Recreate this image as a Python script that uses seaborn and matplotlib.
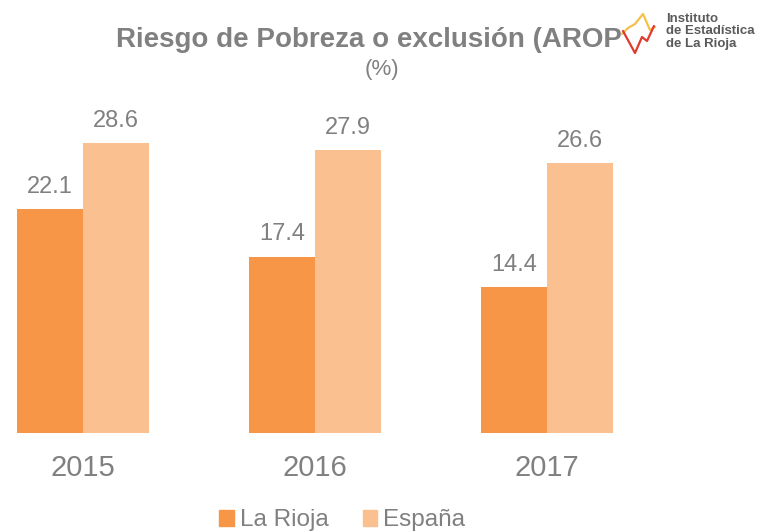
import matplotlib
matplotlib.use('Agg')
import matplotlib.pyplot as plt
import matplotlib.patches as mpatches
import seaborn as sns
import pandas as pd

years = ['2015', '2016', '2017']
la_rioja = [22.1, 17.4, 14.4]
espana = [28.6, 27.9, 26.6]
series = ['La Rioja', 'España']
colors = ['#F79646', '#FAC090']
grey = '#808080'

df = pd.DataFrame({
    'year': years * 2,
    'region': [series[0]] * 3 + [series[1]] * 3,
    'value': la_rioja + espana,
})

sns.set_style('white')
plt.rcParams['font.family'] = ['Liberation Sans', 'DejaVu Sans']

fig = plt.figure(figsize=(7.57, 5.31), dpi=100)
ax = fig.add_axes([0, 98 / 531, 1, 355 / 531])

sns.barplot(data=df, x='year', y='value', hue='region', palette=colors,
            width=0.57, saturation=1, linewidth=0, legend=False, ax=ax)

for cont in ax.containers:
    ax.bar_label(cont, fmt='%.1f', padding=8, fontsize=17, color=grey)

ax.set_xlim(-0.358, 2.905)
ax.set_ylim(0, 35)
ax.set_xlabel('')
ax.set_ylabel('')
ax.set_yticks([])
ax.tick_params(axis='x', length=0, pad=15, labelsize=21, labelcolor=grey)
sns.despine(ax=ax, left=True, bottom=True)

handles = [mpatches.Patch(color=c, label=s) for c, s in zip(colors, series)]
fig.legend(handles=handles, loc='lower center', bbox_to_anchor=(0.452, -0.042),
           ncol=2, frameon=False, fontsize=17.5, labelcolor=grey,
           handlelength=0.6, handleheight=0.6, handletextpad=0.25,
           columnspacing=1.4)

# title + subtitle
fig.text(0.506, 1 - 47 / 531, 'Riesgo de Pobreza o exclusión (AROPE)',
         ha='center', va='baseline', fontsize=20, fontweight='bold',
         color=grey, zorder=3)
fig.text(0.505, 1 - 69 / 531, '(%)', ha='center', va='center',
         fontsize=16, color=grey, zorder=3)

# logo of the Instituto de Estadística de La Rioja
fig.patches.append(mpatches.Rectangle((621 / 757, 1 - 62 / 531), 136 / 757, 62 / 531,
                                      transform=fig.transFigure, color='white', zorder=5))
logo = fig.add_axes([618 / 757, 1 - 60 / 531, 42 / 757, 50 / 531], zorder=6)
logo_yellow_x = [622, 628, 635, 643, 650, 655]
logo_yellow_y = [34, 28, 24, 14, 30, 27]
logo_red_x = [623, 629, 635, 642, 647, 654]
logo_red_y = [31, 42, 53, 37, 41, 26]
logo.plot(logo_yellow_x, logo_yellow_y, color='#F5C04A', lw=1.6)
logo.plot(logo_red_x, logo_red_y, color='#E03A2E', lw=1.6)
logo.set_xlim(618, 660)
logo.set_ylim(60, 10)
logo.axis('off')
fig.text(666 / 757, 1 - 13 / 531, 'Instituto\nde Estadística\nde La Rioja',
         ha='left', va='top', fontsize=9.5, fontweight='bold', color='#5a5a5a',
         linespacing=1.05, zorder=7)

fig.savefig('out.png', dpi=100)
